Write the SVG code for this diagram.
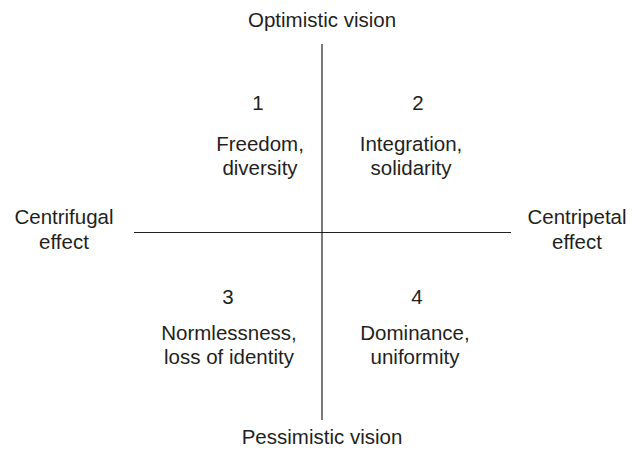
<svg xmlns="http://www.w3.org/2000/svg" width="633" height="458" viewBox="0 0 633 458">
  <style>
    text { font-family: "Liberation Sans", Arial, sans-serif; font-size: 20.5px; fill: #231f20; text-anchor: middle; }
    .axis { stroke: #231f20; stroke-width: 1.2; fill: none; }
  </style>
  <rect width="633" height="458" fill="#ffffff"/>
  <g id="connectors">
    <line class="axis" x1="322" y1="44" x2="322" y2="420"/>
    <line class="axis" x1="134" y1="232.5" x2="511" y2="232.5"/>
  </g>
  <g id="top-label"><text x="322" y="27">Optimistic vision</text></g>
  <g id="bottom-label"><text x="322" y="444">Pessimistic vision</text></g>
  <g id="left-label">
    <text x="64" y="224">Centrifugal</text>
    <text x="64" y="249">effect</text>
  </g>
  <g id="right-label">
    <text x="577" y="224">Centripetal</text>
    <text x="577" y="249">effect</text>
  </g>
  <g id="quadrant-1">
    <text x="258" y="110">1</text>
    <text x="260" y="151">Freedom,</text>
    <text x="260" y="175">diversity</text>
  </g>
  <g id="quadrant-2">
    <text x="418" y="110">2</text>
    <text x="411" y="151">Integration,</text>
    <text x="411" y="175">solidarity</text>
  </g>
  <g id="quadrant-3">
    <text x="228" y="304">3</text>
    <text x="229" y="340">Normlessness,</text>
    <text x="229" y="364">loss of identity</text>
  </g>
  <g id="quadrant-4">
    <text x="417" y="304">4</text>
    <text x="415" y="340">Dominance,</text>
    <text x="415" y="364">uniformity</text>
  </g>
</svg>
